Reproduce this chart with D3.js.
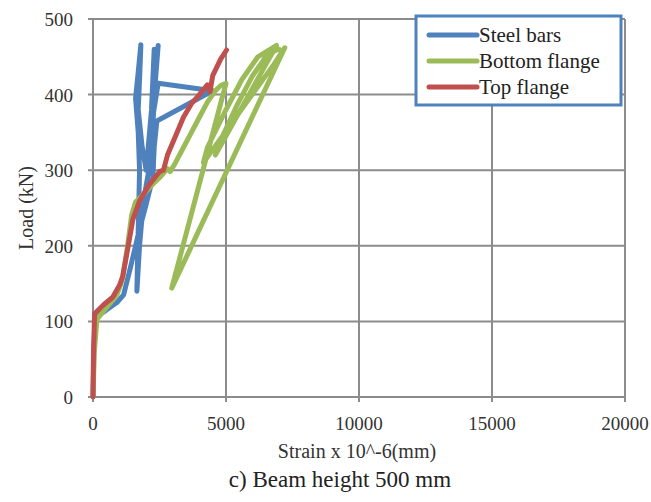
<!DOCTYPE html>
<html>
<head>
<meta charset="utf-8">
<script src="https://cdn.jsdelivr.net/npm/d3@7"></script>
<style>
  body { margin: 0; background: #fff; }
</style>
</head>
<body>
<svg id="chart" width="651" height="502"></svg>
<script>
// strain (x 10^-6) and load (kN)
const steelStrain = [0, 30, 80, 500, 900, 1150, 1400, 1700, 2000, 2250, 2300, 2250, 2350, 2450, 2350, 2300, 2150, 2200, 2450, 4500, 2400, 2300, 2100, 1900, 1750, 1650, 1700, 1750, 1700, 1600, 1700, 1800, 1750, 1700, 1850, 2000, 2200, 2300];
const steelLoad   = [0, 60, 105, 115, 125, 135, 170, 215, 255, 290, 330, 370, 420, 465, 430, 390, 300, 360, 415, 405, 365, 330, 300, 260, 200, 140, 220, 300, 350, 395, 430, 466, 420, 380, 330, 300, 380, 460];

const bottomStrain = [0, 50, 150, 500, 900, 1100, 1300, 1450, 1600, 1900, 2200, 2500, 2800, 2900, 3100, 3400, 3700, 4000, 4300, 4600, 4800, 5000, 2960, 7210, 6800, 4150, 4300, 5000, 5600, 6200, 6900, 6500, 4600, 4800, 5400, 6000, 6600, 7000];
const bottomLoad   = [0, 60, 103, 118, 135, 155, 200, 240, 258, 268, 280, 290, 302, 298, 310, 330, 350, 370, 390, 405, 412, 415, 144, 462, 440, 310, 330, 380, 420, 450, 465, 440, 320, 340, 385, 425, 455, 460];

const topStrain = [0, 20, 60, 400, 740, 1000, 1120, 1300, 1500, 1760, 2100, 2500, 2650, 2800, 3100, 3400, 3700, 4000, 4300, 4400, 4500, 4650, 4800, 5020];
const topLoad   = [0, 60, 110, 122, 132, 148, 160, 195, 235, 260, 280, 298, 300, 320, 345, 370, 388, 400, 413, 404, 425, 436, 447, 459];

const xTicks = [0, 5000, 10000, 15000, 20000];
const yTicks = [0, 100, 200, 300, 400, 500];

const series = [
  { name: "Steel bars", color: "#4F81BD", xs: steelStrain, ys: steelLoad },
  { name: "Bottom flange", color: "#9BBB59", xs: bottomStrain, ys: bottomLoad },
  { name: "Top flange", color: "#C0504D", xs: topStrain, ys: topLoad }
];

const serif = "'Times New Roman', Times, 'Liberation Serif', 'Noto Serif', 'DejaVu Serif', serif";
const svg = d3.select("#chart")
  .style("font-family", serif);
const pLeft = 93, pRight = 625, pTop = 19, pBottom = 397;

const x = d3.scaleLinear().domain([0, 20000]).range([pLeft, pRight]);
const y = d3.scaleLinear().domain([0, 500]).range([pBottom, pTop]);

// grid
svg.append("g")
  .selectAll("line")
  .data(xTicks)
  .enter().append("line")
  .attr("x1", d => x(d)).attr("x2", d => x(d))
  .attr("y1", pTop).attr("y2", pBottom + 5)
  .attr("stroke", "#8c8c8c").attr("stroke-width", 2);

svg.append("g")
  .selectAll("line")
  .data(yTicks)
  .enter().append("line")
  .attr("x1", pLeft - 5).attr("x2", pRight)
  .attr("y1", d => y(d)).attr("y2", d => y(d))
  .attr("stroke", "#8c8c8c").attr("stroke-width", 2);

// tick labels
svg.append("g")
  .selectAll("text")
  .data(xTicks)
  .enter().append("text")
  .attr("x", d => x(d)).attr("y", 430)
  .attr("text-anchor", "middle")
  .attr("fill", "#333")
  .style("font-family", serif)
  .style("font-size", "19px")
  .text(d => d);

svg.append("g")
  .selectAll("text")
  .data(yTicks)
  .enter().append("text")
  .attr("x", 73).attr("y", d => y(d) + 7)
  .attr("text-anchor", "end")
  .attr("fill", "#333")
  .style("font-family", serif)
  .style("font-size", "19px")
  .text(d => d);

// series
const line = d3.line().x(d => x(d[0])).y(d => y(d[1]));
series.forEach(s => {
  svg.append("path")
    .datum(s.xs.map((v, i) => [v, s.ys[i]]))
    .attr("d", line)
    .attr("fill", "none")
    .attr("stroke", s.color)
    .attr("stroke-width", 5)
    .attr("stroke-linejoin", "round")
    .attr("stroke-linecap", "round");
});

// axis titles
svg.append("text")
  .attr("x", 357).attr("y", 458)
  .attr("text-anchor", "middle")
  .attr("fill", "#333")
  .style("font-family", serif)
  .style("font-size", "20px")
  .text("Strain x 10^-6(mm)");

svg.append("text")
  .attr("transform", `translate(33,${(pTop + pBottom) / 2}) rotate(-90)`)
  .attr("text-anchor", "middle")
  .attr("fill", "#333")
  .style("font-family", serif)
  .style("font-size", "20px")
  .text("Load (kN)");

svg.append("text")
  .attr("x", 340).attr("y", 487)
  .attr("text-anchor", "middle")
  .attr("fill", "#222")
  .style("font-family", serif)
  .style("font-size", "23px")
  .text("c) Beam height 500 mm");

// legend
const lg = svg.append("g");
lg.append("rect")
  .attr("x", 416).attr("y", 16).attr("width", 205).attr("height", 89)
  .attr("fill", "#fff").attr("stroke", "#4F81BD").attr("stroke-width", 3);

series.forEach((s, i) => {
  const ly = 35 + i * 26;
  lg.append("line")
    .attr("x1", 429).attr("x2", 477).attr("y1", ly).attr("y2", ly)
    .attr("stroke", s.color).attr("stroke-width", 5).attr("stroke-linecap", "round");
  lg.append("text")
    .attr("x", 479).attr("y", ly + 7)
    .attr("fill", "#222")
    .style("font-family", serif)
    .style("font-size", "21px")
    .text(s.name);
});
</script>
</body>
</html>
